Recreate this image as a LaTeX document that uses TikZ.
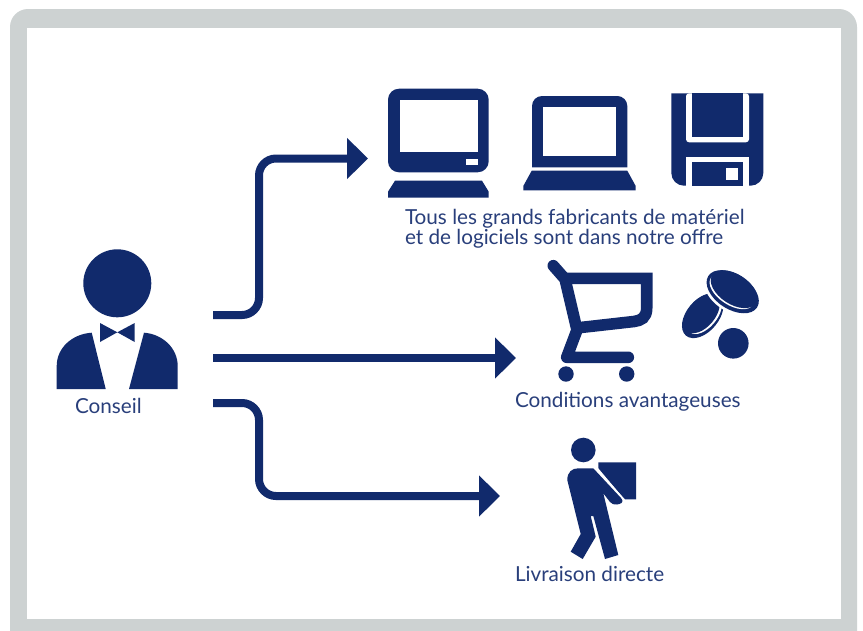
\documentclass[tikz,border=0pt]{standalone}
\usepackage{fontspec}
\setmainfont{Lato}
\usetikzlibrary{arrows.meta}
\definecolor{navy}{HTML}{112A6C}
\definecolor{framegray}{HTML}{CDD2D2}
\tikzset{
  flow/.style={draw=navy,line width=8pt,rounded corners=17pt,-{Triangle[length=21pt,width=40pt]}},
  ink/.style={fill=navy,draw=none},
  blank/.style={fill=white,draw=none},
  cartline/.style={draw=navy,line width=11.6pt,line cap=round,fill=none},
  caption/.style={text=navy!90,font=\fontsize{20.7}{20.7}\selectfont,anchor=base west,inner sep=0pt,outer sep=0pt}
}
\begin{document}
\begin{tikzpicture}[x=1pt,y=-1pt]
\useasboundingbox (0,0) rectangle (863,630);
\clip (0,0) rectangle (863,630);
\fill[white] (0,0) rectangle (863,630);
% frame
\fill[framegray,rounded corners=18pt] (10,660) -- (10,9) -- (857,9) -- (857,660) -- cycle;
\fill[white] (27,28) rectangle (841,619);
% connector ends
\coordinate (src1) at (213,315);
\coordinate (src2) at (213,358);
\coordinate (src3) at (213,403);
\coordinate (tgt1) at (368,158.5);
\coordinate (tgt2) at (516,358);
\coordinate (tgt3) at (500,496);
\coordinate (bend1) at (259,315);
\coordinate (bend1b) at (259,158.5);
\coordinate (bend3) at (259,403);
\coordinate (bend3b) at (259,496);
\draw[flow] (src1) -- (bend1) -- (bend1b) -- (tgt1);
\draw[flow] (src2) -- (tgt2);
\draw[flow] (src3) -- (bend3) -- (bend3b) -- (tgt3);
% advisor
\fill[ink] (117.3,283.3) circle[radius=34];
\fill[ink] (100,323) -- (117.3,332.3) -- (134.7,323) -- (134.7,342) -- (117.3,332.3) -- (100,342) -- cycle;
\fill[ink] (56.7,389) -- (56.7,366) .. controls (56.7,348) and (72,334) .. (91.7,332.7) -- (105.7,389) -- cycle;
\fill[ink] (177.7,389) -- (177.7,366) .. controls (177.7,348) and (162.4,334) .. (144,332.7) -- (129,389) -- cycle;
% monitor
\fill[ink,rounded corners=11pt] (388,88.7) rectangle (488.7,172.3);
\fill[blank] (399.7,100) rectangle (477.7,152);
\fill[blank] (466,159) rectangle (477.7,165);
\fill[ink] (395,180.7) -- (482,180.7) -- (488.7,191.7) -- (488.7,197.7) -- (388,197.7) -- (388,191.7) -- cycle;
% laptop
\fill[ink,rounded corners=10pt] (532,167.3) [sharp corners] -- (532,120) [rounded corners=10pt] -- (532,96) -- (627.3,96) -- (627.3,120) [sharp corners] -- (627.3,167.3) -- cycle;
\fill[blank] (543.3,107.3) rectangle (616,156.3);
\fill[ink] (531.7,170.7) -- (627.3,170.7) -- (635.7,186) -- (635.7,190.3) -- (523.3,190.3) -- (523.3,186) -- cycle;
% floppy
\fill[ink] (671.3,93.3) -- (763.3,93.3) -- (763.3,173) arc[start angle=0,end angle=90,radius=12.7] -- (684,185.7) arc[start angle=90,end angle=180,radius=12.7] -- cycle;
\fill[blank,rounded corners=3pt] (686,93.3) -- (686,142.3) -- (749,142.3) -- (749,93.3) -- cycle;
\fill[ink] (691.7,93.3) rectangle (743.3,136.7);
\fill[blank] (686,156.7) rectangle (749,185.7);
\fill[ink] (691.7,162.3) rectangle (743.3,185.7);
\fill[blank] (726,168.3) rectangle (737.7,180);
% cart
\path[cartline,line join=round] (553.3,265.7) -- (565,279) -- (577,330) -- (566.7,357.3) -- (628.3,357.3);
\path[cartline,line cap=butt,line join=miter] (562,278.3) -- (646.7,278.3) -- (646.7,308) .. controls (646.7,318) and (641,320.5) .. (634,321.5) -- (578,327.8);
\fill[ink] (566,374) circle[radius=7.7];
\fill[ink] (626.7,374) circle[radius=7.7];
% coins
\fill[ink] (702.7,315.7) ellipse[x radius=26,y radius=16,rotate=50];
\fill[blank] (704.5,315) ellipse[x radius=22.5,y radius=12.5,rotate=50];
\fill[ink] (701.7,313.6) ellipse[x radius=23,y radius=13.5,rotate=50];
\fill[blank] (732,292) ellipse[x radius=31,y radius=19.5,rotate=-33];
\fill[ink] (732.7,291.7) ellipse[x radius=29,y radius=17.5,rotate=-33];
\fill[blank] (731.8,291.5) ellipse[x radius=25,y radius=13.5,rotate=-33];
\fill[ink] (734,289.2) ellipse[x radius=26,y radius=15,rotate=-33];
\fill[ink] (733.3,343.3) circle[radius=15.3];
% delivery man
\fill[ink] (583.3,450) circle[radius=12.3];
\fill[ink] (598.3,462.3) -- (636,462.3) -- (636,499.3) -- (625,499.3) -- (598.3,469.5) -- cycle;
\fill[blank] (594,468) -- (598,468) -- (630,506) -- (615,506) -- cycle;
\fill[ink] (567.3,480)
  .. controls (567.3,472) and (572,468.3) .. (578.3,468.3)
  -- (593.3,468.3)
  -- (621,498)
  .. controls (625,503) and (620,504) .. (617,504.5)
  .. controls (614,505) and (612,504) .. (610,502)
  -- (603.3,493.3)
  -- (618.3,555)
  -- (605,559)
  -- (593.3,516)
  -- (590.7,516)
  -- (595.7,536.7)
  -- (582.7,559)
  -- (570.7,551.7)
  -- (580.7,534)
  -- cycle;
% captions
\node[caption] (t1) at (405,224) {Tous les grands fabricants de matériel};
\node[caption] (t2) at (405,244) {et de logiciels sont dans notre offre};
\node[caption] (t3) at (515,407) {Conditions avantageuses};
\node[caption] (t4) at (515,581) {Livraison directe};
\node[caption] (t5) at (75,413) {Conseil};
\end{tikzpicture}
\end{document}
